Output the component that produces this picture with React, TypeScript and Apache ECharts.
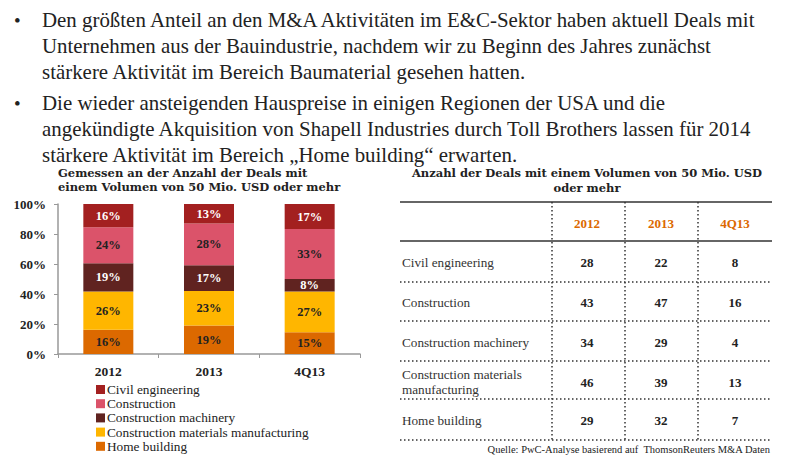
import { useEffect, useRef } from "react";
import * as echarts from "echarts";

// ---------- data ----------
const years = ["2012", "2013", "4Q13"];
const sectorNames = [
  "Civil engineering",
  "Construction",
  "Construction machinery",
  "Construction materials manufacturing",
  "Home building",
];
const tableRowLabels = [
  "Civil engineering",
  "Construction",
  "Construction machinery",
  "Construction materials\nmanufacturing",
  "Home building",
];
// deal counts (table), per year 2012, 2013, 4Q13
const civilEngineering = [28, 22, 8];
const construction = [43, 47, 16];
const constructionMachinery = [34, 29, 4];
const constructionMaterials = [46, 39, 13];
const homeBuilding = [29, 32, 7];
const yTicks = [0, 20, 40, 60, 80, 100];

const bullet1 = [
  "Den größten Anteil an den M&A Aktivitäten im E&C-Sektor haben aktuell Deals mit",
  "Unternehmen aus der Bauindustrie, nachdem wir zu Beginn des Jahres zunächst",
  "stärkere Aktivität im Bereich Baumaterial gesehen hatten.",
];
const bullet2 = [
  "Die wieder ansteigenden Hauspreise in einigen Regionen der USA und die",
  "angekündigte Akquisition von Shapell Industries durch Toll Brothers lassen für 2014",
  "stärkere Aktivität im Bereich „Home building“ erwarten.",
];
const chartTitle = "Gemessen an der Anzahl der Deals mit\neinem Volumen von 50 Mio. USD oder mehr";
const tableTitle = "Anzahl der Deals mit einem Volumen von 50 Mio. USD\noder mehr";
const sourceText = "Quelle: PwC-Analyse basierend auf  ThomsonReuters M&A Daten";

const SERIF = "'Liberation Serif', 'DejaVu Serif', serif";
const WIDE_SERIF = "'DejaVu Serif', 'Liberation Serif', serif";
const INK = "#222222";

export default function App() {
  const ref = useRef<HTMLDivElement>(null);

  useEffect(() => {
    document.body.style.margin = "0";
    const chart = echarts.init(ref.current!, null, { renderer: "svg" });

    const countsBySector = [
      civilEngineering,
      construction,
      constructionMachinery,
      constructionMaterials,
      homeBuilding,
    ];
    const colors = ["#A32020", "#DB536A", "#602320", "#FFB600", "#DC6900"];
    const labelColors = ["#ffffff", INK, "#ffffff", INK, INK];
    const totals = years.map((_, i) =>
      countsBySector.reduce((s, arr) => s + arr[i], 0)
    );

    // stacking order: bottom first
    const stackIdx = [4, 3, 2, 1, 0];
    const series = stackIdx.map((k) => ({
      name: sectorNames[k],
      type: "bar",
      stack: "total",
      barWidth: 50,
      data: countsBySector[k].map((v, i) => (v / totals[i]) * 100),
      itemStyle: { color: colors[k] },
      label: {
        show: true,
        position: "inside",
        formatter: (p: any) => Math.round(p.value) + "%",
        color: labelColors[k],
        fontFamily: SERIF,
        fontWeight: "bold",
        fontSize: 12.5,
      },
    }));

    const graphics: any[] = [];
    const txt = (x: number, y: number, text: string, o: any = {}) =>
      graphics.push({
        type: "text",
        x,
        y,
        silent: true,
        style: {
          text,
          fill: o.fill || INK,
          fontFamily: o.family || SERIF,
          fontSize: o.size || 13,
          fontWeight: o.weight || "normal",
          align: o.align || "left",
          verticalAlign: o.va || "middle",
          lineHeight: o.lh,
        },
      });

    // bullets
    const bulletBlocks = [
      { lines: bullet1, y0: 20 },
      { lines: bullet2, y0: 103 },
    ];
    bulletBlocks.forEach((b) => {
      txt(14, b.y0, "•", { size: 19, lh: 19 });
      b.lines.forEach((l, i) => txt(42, b.y0 + i * 26, l, { size: 20.9, lh: 19 }));
    });

    // chart title
    txt(58, 180, chartTitle, { size: 11.5, weight: "bold", lh: 14.5, family: WIDE_SERIF });

    // table
    txt(587, 180.5, tableTitle, {
      size: 11.5,
      weight: "bold",
      lh: 15,
      align: "center",
      family: WIDE_SERIF,
    });
    const colX = [587, 661, 735];
    const rowY = [262, 302, 342, 382, 420];
    years.forEach((y, j) =>
      txt(colX[j], 223, y, { size: 13, weight: "bold", fill: "#DC6900", align: "center" })
    );
    tableRowLabels.forEach((lab, r) => {
      txt(402, rowY[r], lab, { size: 13.2, fill: "#333", lh: 15 });
      countsBySector[r].forEach((v, j) =>
        txt(colX[j], rowY[r], String(v), { size: 13, weight: "bold", align: "center" })
      );
    });
    const solidY = [202, 241];
    solidY.forEach((y) =>
      graphics.push({
        type: "line",
        silent: true,
        shape: { x1: 400, y1: y, x2: 772, y2: y },
        style: { stroke: "#333", lineWidth: 1.5 },
      })
    );
    const dottedY = [282, 321, 361, 399, 440];
    dottedY.forEach((y) =>
      graphics.push({
        type: "line",
        silent: true,
        shape: { x1: 400, y1: y, x2: 772, y2: y },
        style: { stroke: "#333", lineWidth: 1.5, lineDash: [1.5, 2.5] },
      })
    );
    const vertX = [552, 625, 698];
    vertX.forEach((x) =>
      graphics.push({
        type: "line",
        silent: true,
        shape: { x1: x, y1: 202, x2: x, y2: 440 },
        style: { stroke: "#333", lineWidth: 1.5, lineDash: [1.5, 2.5] },
      })
    );
    txt(770, 449, sourceText, { size: 10.5, align: "right" });

    chart.setOption({
      animation: false,
      backgroundColor: "#ffffff",
      grid: { left: 58, right: 440, top: 204, bottom: 105 },
      xAxis: {
        type: "category",
        data: years,
        axisLine: { lineStyle: { color: "#999", width: 1.5 } },
        axisTick: { show: true, length: 4, lineStyle: { color: "#999" } },
        axisLabel: {
          color: INK,
          fontFamily: SERIF,
          fontWeight: "bold",
          fontSize: 13.5,
          margin: 10,
        },
      },
      yAxis: {
        type: "value",
        min: yTicks[0],
        max: yTicks[yTicks.length - 1],
        interval: 20,
        axisLine: { show: true, lineStyle: { color: "#999", width: 1.5 } },
        axisTick: { show: true, length: 4, lineStyle: { color: "#999" } },
        splitLine: { show: false },
        axisLabel: {
          formatter: "{value}%",
          color: INK,
          fontFamily: SERIF,
          fontWeight: "bold",
          fontSize: 13,
          margin: 12,
        },
      },
      legend: {
        orient: "vertical",
        left: 96,
        top: 383,
        height: 76,
        padding: 0,
        data: sectorNames,
        icon: "rect",
        itemWidth: 9,
        itemHeight: 9,
        itemGap: 1.2,
        selectedMode: false,
        textStyle: {
          color: INK,
          fontFamily: SERIF,
          fontSize: 13.3,
          lineHeight: 12,
          padding: [0, 0, 0, -3],
        },
      },
      series,
      graphic: graphics,
    });

    return () => chart.dispose();
  }, []);

  return (
    <div
      ref={ref}
      style={{ position: "absolute", left: 0, top: 0, width: 800, height: 459 }}
    />
  );
}
